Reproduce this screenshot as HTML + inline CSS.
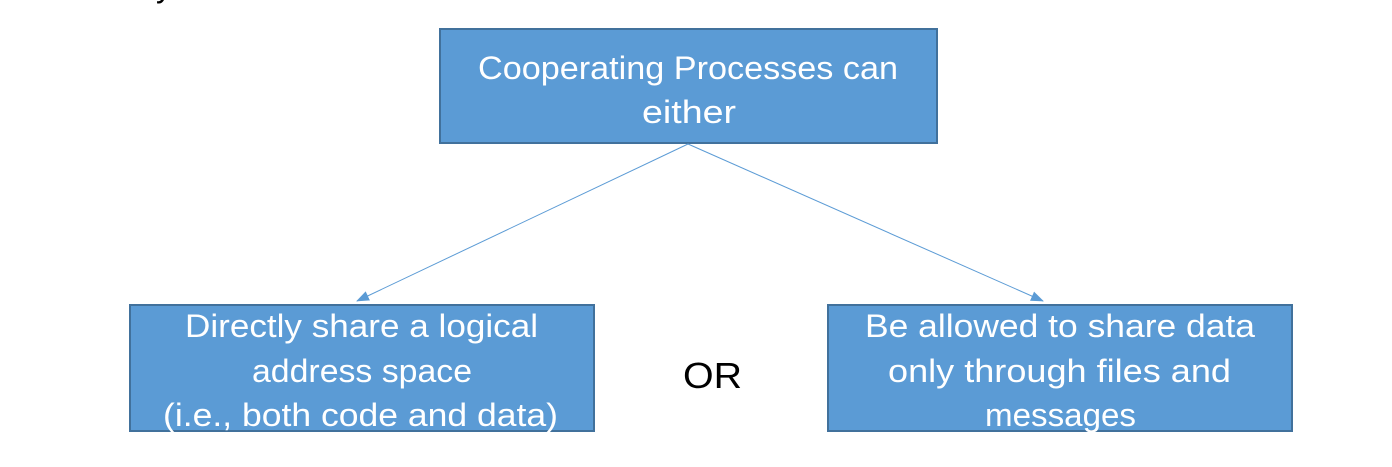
<!DOCTYPE html>
<html><head><meta charset="utf-8"><style>
html,body{margin:0;padding:0;background:#fff;}
svg{display:block;}
text{font-family:"Liberation Sans",sans-serif;font-size:32px;fill:#fff;}
</style></head><body>
<svg width="1392" height="467" viewBox="0 0 1392 467" xmlns="http://www.w3.org/2000/svg">
<defs><marker id="a" markerWidth="13" markerHeight="10" refX="12" refY="5" orient="auto" markerUnits="userSpaceOnUse"><path d="M0,0 L13,5 L0,10 Z" fill="#5B9BD5"/></marker></defs>
<text x="156" y="-3" style="fill:#000">y</text>
<rect x="440" y="29" width="497" height="114" fill="#5B9BD5" stroke="#41719C" stroke-width="2"/>
<text x="478" y="79" textLength="420" lengthAdjust="spacingAndGlyphs">Cooperating Processes can</text>
<text x="642" y="123" textLength="94" lengthAdjust="spacingAndGlyphs">either</text>
<line x1="688" y1="144" x2="357" y2="301" stroke="#5B9BD5" stroke-width="1" marker-end="url(#a)"/>
<line x1="688" y1="144" x2="1043" y2="301" stroke="#5B9BD5" stroke-width="1" marker-end="url(#a)"/>
<rect x="130" y="305" width="464" height="126" fill="#5B9BD5" stroke="#41719C" stroke-width="2"/>
<text x="185" y="337" textLength="353" lengthAdjust="spacingAndGlyphs">Directly share a logical</text>
<text x="252" y="382" textLength="220" lengthAdjust="spacingAndGlyphs">address space</text>
<text x="163" y="426" textLength="395" lengthAdjust="spacingAndGlyphs">(i.e., both code and data)</text>
<rect x="828" y="305" width="464" height="126" fill="#5B9BD5" stroke="#41719C" stroke-width="2"/>
<text x="865" y="337" textLength="390" lengthAdjust="spacingAndGlyphs">Be allowed to share data</text>
<text x="888" y="382" textLength="343" lengthAdjust="spacingAndGlyphs">only through files and</text>
<text x="985" y="426" textLength="151" lengthAdjust="spacingAndGlyphs">messages</text>
<text x="683" y="388" textLength="59" lengthAdjust="spacingAndGlyphs" style="fill:#000;font-size:36px">OR</text>
</svg>
</body></html>
